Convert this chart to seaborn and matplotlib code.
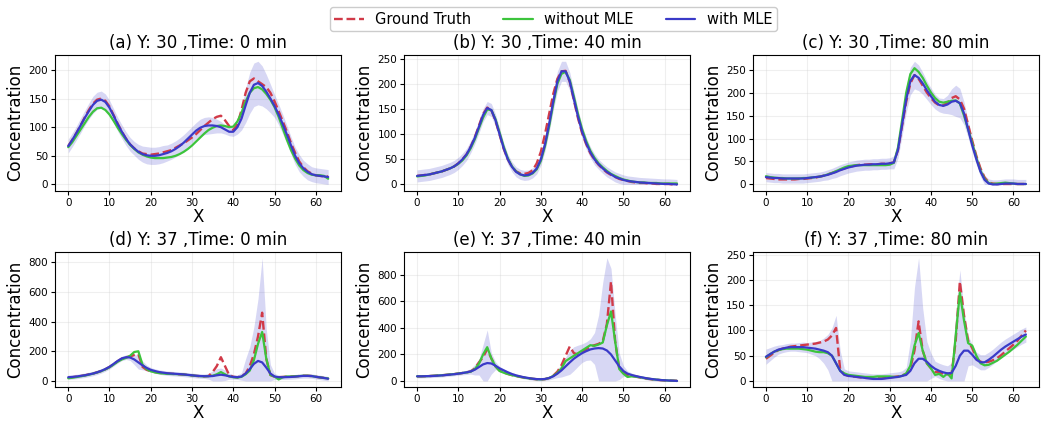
import numpy as np
import pandas as pd
import matplotlib
matplotlib.use("Agg")
import matplotlib.pyplot as plt
from matplotlib.ticker import MultipleLocator
import seaborn as sns

x = list(range(64))

# (a) Y: 30, Time: 0 min
a_gt = [67, 78, 90, 103, 117, 130, 141, 148, 150, 146, 136, 121, 106, 92, 80, 70, 63, 58, 54, 53,
        52, 53, 54, 56, 58, 60, 64, 68, 72, 77, 82, 88, 95, 102, 108, 114, 118, 120, 112, 102,
        95, 105, 130, 160, 180, 185, 180, 175, 170, 160, 145, 128, 110, 92, 72, 55, 40, 30, 23, 19,
        16, 15, 14, 14]
a_wo = [65, 74, 85, 96, 107, 118, 127, 133, 134, 130, 122, 111, 99, 88, 78, 69, 62, 56, 52, 49,
        47, 46, 46, 46, 47, 48, 50, 53, 57, 62, 68, 75, 82, 89, 95, 99, 102, 103, 102, 100,
        101, 110, 125, 145, 160, 168, 170, 166, 158, 148, 135, 118, 98, 78, 60, 45, 33, 25, 20, 17,
        16, 16, 15, 10]
a_w = [67, 78, 90, 103, 116, 128, 139, 146, 148, 144, 134, 120, 105, 92, 80, 70, 63, 57, 53, 51,
       50, 50, 51, 53, 55, 58, 62, 67, 73, 80, 87, 94, 99, 102, 103, 103, 102, 100, 96, 92,
       92, 100, 115, 138, 160, 174, 177, 172, 162, 150, 137, 122, 105, 87, 68, 50, 37, 28, 22, 18,
       16, 15, 14, 13]
a_sd = [12, 12, 12, 13, 13, 14, 15, 15, 15, 14, 13, 12, 12, 12, 12, 12, 12, 13, 14, 15,
        15, 15, 15, 15, 14, 14, 14, 14, 14, 14, 14, 14, 15, 15, 15, 14, 12, 10, 8, 7,
        8, 12, 20, 30, 36, 38, 38, 35, 30, 25, 20, 18, 17, 16, 15, 15, 15, 14, 14, 13,
        13, 13, 13, 13]

# (b) Y: 30, Time: 40 min
b_gt = [17, 18, 19, 20, 22, 24, 26, 29, 32, 36, 42, 50, 60, 75, 94, 117, 140, 153, 148, 127,
        99, 71, 50, 35, 26, 22, 21, 23, 28, 42, 65, 100, 140, 180, 210, 225, 226, 204, 168, 132,
        102, 80, 62, 49, 39, 31, 24, 19, 15, 11, 9, 7, 5, 4, 3, 3, 2, 2, 1, 1,
        1, 1, 0, 0]
b_wo = [16, 17, 18, 20, 22, 24, 26, 29, 32, 36, 41, 48, 58, 72, 90, 112, 133, 149, 148, 130,
        103, 75, 52, 36, 26, 20, 17, 18, 22, 30, 47, 76, 115, 160, 200, 220, 224, 208, 175, 140,
        110, 86, 67, 53, 42, 34, 27, 21, 17, 13, 10, 8, 6, 5, 4, 4, 3, 3, 3, 2,
        2, 2, 2, 2]
b_w = [17, 18, 19, 20, 22, 24, 26, 29, 32, 36, 42, 50, 60, 75, 93, 115, 138, 152, 148, 128,
       100, 72, 50, 35, 25, 20, 18, 19, 23, 32, 50, 80, 120, 165, 205, 225, 225, 205, 170, 135,
       105, 82, 64, 50, 40, 32, 25, 20, 15, 12, 9, 7, 6, 5, 4, 3.5, 3, 2.5, 2, 1.5,
       1, 1, 0.5, 0]
b_sd = [12, 12, 12, 12, 12, 12, 12, 12, 12, 12, 12, 12, 12, 12, 12, 13, 13, 13, 13, 12,
        12, 11, 10, 10, 10, 10, 10, 10, 10, 11, 12, 14, 16, 18, 20, 20, 20, 18, 16, 14,
        12, 12, 11, 11, 10, 10, 10, 10, 10, 10, 10, 10, 10, 10, 10, 10, 10, 10, 10, 10,
        10, 10, 10, 10]

# (c) Y: 30, Time: 80 min
c_gt = [14, 13, 12, 11, 11, 11, 11, 11, 12, 12, 13, 14, 15, 17, 19, 22, 25, 28, 32, 35,
        38, 40, 42, 43, 43, 44, 44, 44, 45, 45, 46, 48, 75, 128, 180, 220, 238, 230, 215, 200,
        188, 178, 172, 172, 178, 188, 192, 185, 165, 130, 95, 62, 35, 15, 4, 2, 1, 1, 1, 1,
        1, 1, 1, 1]
c_wo = [18, 16, 15, 14, 14, 13, 13, 13, 13, 14, 14, 15, 16, 17, 19, 22, 25, 29, 33, 37,
        40, 41, 42, 42, 42, 42, 42, 42, 42, 42, 43, 47, 80, 140, 200, 240, 253, 245, 232, 215,
        200, 188, 180, 178, 180, 182, 183, 176, 150, 120, 90, 58, 30, 12, 3, 1, 2, 3, 4, 3,
        2, 1, 1, 1]
c_w = [16, 15, 14, 14, 13, 13, 13, 13, 13, 13, 14, 15, 16, 17, 19, 21, 24, 27, 31, 34,
       37, 39, 41, 42, 43, 43, 44, 44, 45, 45, 46, 48, 75, 130, 185, 225, 238, 232, 220, 205,
       192, 180, 173, 171, 174, 180, 182, 177, 155, 120, 85, 55, 28, 10, 2, 0, 0, 1, 2, 2,
       2, 1, 1, 1]
c_sd = [10, 10, 10, 10, 10, 10, 10, 10, 10, 10, 10, 10, 10, 10, 10, 11, 11, 12, 12, 12,
        12, 12, 12, 12, 12, 12, 12, 12, 12, 12, 12, 14, 18, 24, 28, 30, 30, 28, 24, 20,
        18, 16, 15, 16, 20, 28, 34, 32, 25, 18, 14, 12, 11, 10, 10, 10, 10, 10, 10, 10,
        10, 10, 10, 10]

# (d) Y: 37, Time: 0 min
d_gt = [22, 25, 29, 33, 38, 44, 50, 58, 67, 79, 94, 113, 133, 150, 160, 165, 175, 180, 95, 75,
        66, 60, 55, 52, 50, 48, 47, 45, 43, 40, 37, 34, 32, 31, 33, 60, 100, 160, 100, 40,
        28, 25, 32, 50, 100, 180, 300, 460, 150, 40, 28, 25, 27, 29, 30, 31, 33, 35, 35, 33,
        28, 24, 20, 16]
d_wo = [18, 22, 26, 31, 36, 42, 49, 57, 66, 78, 92, 110, 130, 145, 155, 170, 195, 200, 110, 80,
        65, 58, 53, 50, 48, 47, 46, 45, 43, 40, 37, 34, 32, 31, 32, 35, 45, 60, 45, 30,
        25, 22, 28, 45, 70, 140, 250, 330, 150, 40, 30, 10, 25, 30, 30, 31, 33, 35, 35, 33,
        28, 24, 20, 17]
d_w = [25, 27, 30, 34, 38, 44, 50, 58, 68, 80, 95, 115, 135, 152, 160, 158, 145, 125, 105, 88,
       75, 67, 60, 56, 52, 50, 48, 46, 44, 41, 38, 35, 33, 32, 32, 33, 38, 42, 38, 32,
       27, 25, 30, 50, 80, 115, 135, 125, 90, 50, 30, 25, 25, 26, 27, 29, 32, 34, 34, 33,
       28, 24, 20, 15]
d_sd = [15, 15, 15, 15, 15, 15, 15, 15, 15, 15, 15, 15, 15, 15, 15, 20, 35, 45, 30, 20,
        15, 15, 15, 15, 15, 15, 15, 15, 15, 15, 15, 15, 15, 15, 20, 35, 45, 45, 35, 20,
        15, 15, 25, 100, 150, 250, 420, 705, 260, 60, 20, 15, 15, 15, 15, 15, 15, 15, 15, 15,
        15, 15, 15, 15]

# (e) Y: 37, Time: 40 min
e_gt = [35, 35, 36, 37, 39, 41, 43, 46, 49, 52, 56, 60, 65, 72, 95, 140, 180, 240, 170, 110,
        78, 64, 53, 44, 37, 31, 25, 20, 16, 13, 12, 14, 22, 40, 70, 120, 190, 260, 210, 200,
        220, 240, 260, 270, 280, 300, 430, 750, 300, 90, 60, 45, 40, 33, 27, 21, 16, 12, 9, 6,
        4, 3, 2, 1]
e_wo = [35, 35, 36, 37, 39, 41, 43, 46, 49, 52, 56, 60, 64, 70, 90, 130, 200, 255, 170, 110,
        75, 62, 52, 44, 37, 31, 25, 20, 16, 13, 12, 14, 22, 38, 60, 95, 150, 170, 190, 210,
        230, 250, 270, 265, 275, 290, 420, 525, 300, 90, 55, 30, 35, 32, 28, 22, 17, 13, 10, 7,
        5, 3, 2, 0]
e_w = [35, 35, 36, 37, 38, 40, 42, 45, 48, 51, 55, 60, 65, 72, 85, 105, 125, 135, 132, 115,
       95, 80, 65, 52, 42, 34, 27, 22, 17, 14, 13, 15, 22, 35, 55, 80, 110, 140, 168, 190,
       210, 225, 238, 245, 248, 245, 230, 200, 155, 110, 75, 55, 45, 37, 30, 24, 18, 14, 10, 7,
       5, 3, 2, 0]
e_sd = [12, 12, 12, 12, 12, 12, 12, 12, 12, 12, 12, 14, 16, 20, 40, 60, 150, 250, 80, 30,
        15, 12, 12, 12, 12, 12, 12, 12, 12, 12, 12, 12, 14, 18, 30, 50, 70, 90, 90, 80,
        70, 70, 80, 120, 250, 500, 700, 650, 350, 100, 40, 20, 15, 12, 12, 12, 12, 12, 12, 12,
        12, 12, 12, 12]

# (f) Y: 37, Time: 80 min
f_gt = [44, 50, 56, 61, 64, 66, 68, 69, 70, 71, 72, 73, 74, 76, 78, 82, 90, 105, 22, 13,
        10, 9, 8, 7, 6, 6, 5, 5, 5, 6, 7, 8, 9, 11, 14, 25, 60, 118, 60, 35,
        25, 18, 17, 14, 13, 14, 80, 197, 130, 80, 65, 45, 38, 37, 38, 41, 45, 51, 58, 65,
        72, 80, 90, 100]
f_wo = [47, 53, 58, 61, 63, 64, 64, 64, 64, 63, 62, 60, 58, 57, 57, 55, 50, 35, 20, 15,
        12, 11, 10, 9, 8, 8, 8, 9, 9, 9, 9, 8, 8, 10, 15, 30, 70, 95, 60, 35,
        25, 12, 14, 8, 15, 5, 90, 175, 120, 75, 70, 50, 35, 31, 32, 36, 40, 46, 52, 58,
        65, 72, 80, 88]
f_w = [48, 53, 58, 62, 64, 66, 67, 67, 67, 67, 66, 65, 64, 62, 60, 57, 50, 35, 20, 12,
       10, 9, 8, 7, 6, 5, 4, 4, 4, 5, 6, 7, 8, 10, 12, 20, 35, 44, 44, 38,
       30, 24, 20, 17, 15, 16, 30, 50, 60, 60, 52, 42, 37, 37, 42, 48, 55, 62, 68, 73,
       78, 83, 88, 92]
f_sd = [15, 13, 11, 9, 8, 8, 8, 8, 9, 10, 10, 12, 14, 18, 25, 35, 55, 95, 40, 12,
        10, 10, 10, 10, 10, 10, 10, 10, 10, 10, 10, 10, 10, 10, 15, 60, 150, 200, 100, 40,
        25, 15, 15, 15, 15, 20, 100, 170, 80, 30, 20, 15, 15, 15, 15, 15, 15, 15, 15, 15,
        15, 15, 15, 15]

titles = ["(a) Y: 30 ,Time: 0 min", "(b) Y: 30 ,Time: 40 min", "(c) Y: 30 ,Time: 80 min",
          "(d) Y: 37 ,Time: 0 min", "(e) Y: 37 ,Time: 40 min", "(f) Y: 37 ,Time: 80 min"]
y_steps = [50, 50, 50, 200, 200, 50]
panels = [(a_gt, a_wo, a_w, a_sd), (b_gt, b_wo, b_w, b_sd), (c_gt, c_wo, c_w, c_sd),
          (d_gt, d_wo, d_w, d_sd), (e_gt, e_wo, e_w, e_sd), (f_gt, f_wo, f_w, f_sd)]

sns.set_style("ticks", rc={"axes.edgecolor": "black", "text.color": "black",
                           "axes.labelcolor": "black", "xtick.color": "black",
                           "ytick.color": "black"})
plt.rcParams['font.family'] = ['DejaVu Sans']

fig, axes = plt.subplots(2, 3, figsize=(10.42, 4.24), dpi=100)

for ax, title, step, (gt, wo, w, sd) in zip(axes.flat, titles, y_steps, panels):
    df = pd.DataFrame({"X": x, "gt": gt, "wo": wo, "w": w, "sd": sd})
    lower = np.clip(df["w"] - df["sd"], 0, None)
    upper = df["w"] + df["sd"]
    ax.fill_between(df["X"], lower, upper, color="#3a3ac8", alpha=0.2, lw=0)
    sns.lineplot(data=df, x="X", y="gt", ax=ax, color="#d13a48", lw=1.7, linestyle="--",
                 label="Ground Truth", legend=False)
    sns.lineplot(data=df, x="X", y="wo", ax=ax, color="#3cc43c", lw=1.6,
                 label="without MLE", legend=False)
    sns.lineplot(data=df, x="X", y="w", ax=ax, color="#3a3ac8", lw=1.6,
                 label="with MLE", legend=False)
    ax.set_title(title, fontsize=12, pad=5)
    ax.set_xlabel("X", fontsize=12, labelpad=0)
    ax.set_ylabel("Concentration", fontsize=12, labelpad=3)
    ax.set_xticks([0, 10, 20, 30, 40, 50, 60])
    ax.yaxis.set_major_locator(MultipleLocator(step))
    ax.tick_params(labelsize=7.5, length=3, pad=2)
    ax.grid(True, alpha=0.3)

handles, labels = axes[0, 0].get_legend_handles_labels()
fig.legend(handles, labels, loc="upper center", ncol=3, bbox_to_anchor=(0.531, 1.0),
           fontsize=10.5, handlelength=2.0, columnspacing=2.2, framealpha=1,
           borderpad=0.3)

plt.subplots_adjust(left=0.053, right=0.997, top=0.870, bottom=0.087, wspace=0.22, hspace=0.45)
plt.savefig("out.png", dpi=100)
plt.close()
